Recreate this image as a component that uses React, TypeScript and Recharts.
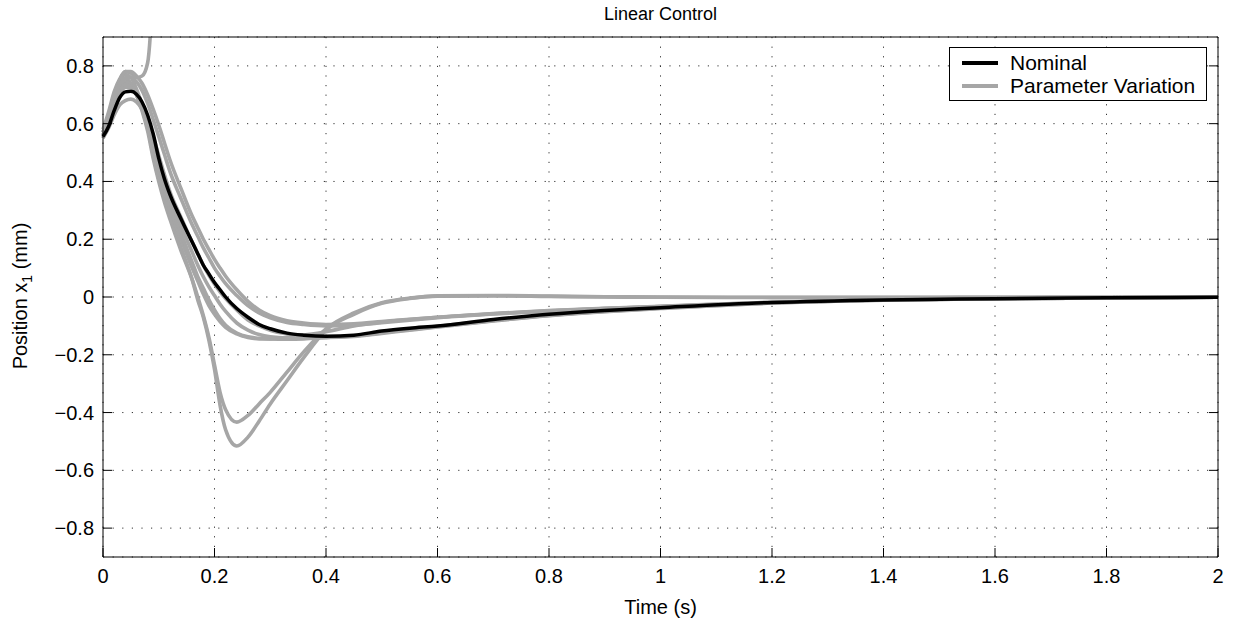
import React from 'react';
import { LineChart, Line, XAxis, YAxis, CartesianGrid } from 'recharts';

// sample times shared by every curve (s)
const times = [0, 0.01, 0.02, 0.03, 0.04, 0.05, 0.06, 0.07, 0.08, 0.09, 0.1, 0.11, 0.12, 0.14, 0.16, 0.17, 0.18, 0.19, 0.2, 0.21, 0.22, 0.24, 0.26, 0.28, 0.3, 0.33, 0.36, 0.4, 0.45, 0.5, 0.55, 0.6, 0.7, 0.8, 0.9, 1.0, 1.2, 1.4, 1.6, 1.8, 2.0];

// nominal response, position x1 (mm)
const nominal = [0.555, 0.59, 0.645, 0.69, 0.71, 0.712, 0.702, 0.675, 0.63, 0.565, 0.48, 0.41, 0.355, 0.27, 0.19, 0.15, 0.11, 0.08, 0.05, 0.025, 0.0, -0.04, -0.07, -0.095, -0.11, -0.125, -0.132, -0.136, -0.132, -0.118, -0.108, -0.1, -0.078, -0.06, -0.047, -0.037, -0.019, -0.01, -0.006, -0.003, -0.001];

// parameter variation runs
const runUnstable = [0.57, 0.63, 0.695, 0.75, 0.78, 0.775, 0.76, 0.765, 0.81, 1.1, 1.7, null, null, null, null, null, null, null, null, null, null, null, null, null, null, null, null, null, null, null, null, null, null, null, null, null, null, null, null, null, null];
const runDip1 = [0.56, 0.62, 0.69, 0.74, 0.755, 0.74, 0.7, 0.645, 0.575, 0.48, 0.4, 0.33, 0.27, 0.16, 0.06, 0.0, -0.065, -0.14, -0.235, -0.33, -0.39, -0.433, -0.41, -0.37, -0.33, -0.26, -0.19, -0.11, -0.055, -0.02, -0.004, 0.003, 0.004, 0.002, 0.0, -0.001, -0.002, -0.002, -0.001, -0.001, 0];
const runDip2 = [0.57, 0.63, 0.7, 0.75, 0.77, 0.76, 0.72, 0.665, 0.59, 0.49, 0.41, 0.34, 0.28, 0.17, 0.06, -0.01, -0.07, -0.15, -0.25, -0.375, -0.46, -0.516, -0.485, -0.43, -0.37, -0.29, -0.21, -0.115, -0.06, -0.022, -0.005, 0.004, 0.005, 0.003, 0.001, 0.0, -0.001, -0.001, -0.001, 0, 0];
const runFast1 = [0.55, 0.61, 0.67, 0.72, 0.745, 0.735, 0.7, 0.65, 0.585, 0.51, 0.44, 0.37, 0.31, 0.2, 0.1, 0.055, 0.01, -0.03, -0.06, -0.085, -0.105, -0.128, -0.14, -0.145, -0.145, -0.14, -0.132, -0.12, -0.1, -0.087, -0.078, -0.07, -0.058, -0.048, -0.04, -0.033, -0.019, -0.01, -0.006, -0.003, -0.001];
const runFast2 = [0.56, 0.6, 0.66, 0.71, 0.735, 0.73, 0.705, 0.66, 0.6, 0.53, 0.46, 0.39, 0.33, 0.22, 0.12, 0.07, 0.03, -0.01, -0.045, -0.075, -0.098, -0.125, -0.138, -0.143, -0.145, -0.146, -0.145, -0.14, -0.135, -0.124, -0.113, -0.103, -0.082, -0.064, -0.05, -0.039, -0.021, -0.011, -0.006, -0.003, -0.001];
const runSlow1 = [0.58, 0.64, 0.71, 0.755, 0.78, 0.78, 0.765, 0.74, 0.7, 0.65, 0.595, 0.535, 0.475, 0.375, 0.28, 0.24, 0.2, 0.165, 0.13, 0.1, 0.072, 0.025, -0.015, -0.045, -0.065, -0.082, -0.09, -0.095, -0.093, -0.085, -0.077, -0.07, -0.057, -0.047, -0.039, -0.032, -0.018, -0.01, -0.006, -0.003, -0.001];
const runSlow2 = [0.57, 0.625, 0.69, 0.735, 0.76, 0.76, 0.745, 0.715, 0.67, 0.615, 0.555, 0.495, 0.435, 0.34, 0.25, 0.21, 0.17, 0.135, 0.1, 0.072, 0.046, 0.005, -0.03, -0.055, -0.072, -0.088, -0.095, -0.1, -0.097, -0.089, -0.08, -0.072, -0.059, -0.049, -0.04, -0.033, -0.018, -0.01, -0.006, -0.003, -0.001];
const runNear1 = [0.55, 0.585, 0.63, 0.665, 0.68, 0.685, 0.675, 0.65, 0.61, 0.555, 0.49, 0.425, 0.365, 0.275, 0.19, 0.15, 0.11, 0.075, 0.045, 0.018, -0.005, -0.045, -0.08, -0.1, -0.115, -0.128, -0.135, -0.14, -0.137, -0.126, -0.115, -0.104, -0.083, -0.065, -0.051, -0.04, -0.021, -0.011, -0.006, -0.003, -0.001];
const runNear2 = [0.56, 0.6, 0.655, 0.7, 0.725, 0.725, 0.705, 0.67, 0.62, 0.55, 0.47, 0.4, 0.34, 0.245, 0.155, 0.11, 0.07, 0.035, 0.005, -0.025, -0.05, -0.09, -0.115, -0.13, -0.138, -0.142, -0.142, -0.14, -0.134, -0.123, -0.112, -0.101, -0.081, -0.063, -0.049, -0.038, -0.02, -0.011, -0.006, -0.003, -0.001];

const variations = [runUnstable, runDip1, runDip2, runFast1, runFast2, runSlow1, runSlow2, runNear1, runNear2];

const xTicks = [0, 0.2, 0.4, 0.6, 0.8, 1, 1.2, 1.4, 1.6, 1.8, 2];
const yTicks = [-0.8, -0.6, -0.4, -0.2, 0, 0.2, 0.4, 0.6, 0.8];

const toSeries = (vals: (number | null)[]) => times.map((t, i) => ({ t, v: vals[i] }));

const FONT = '"Liberation Sans", Arial, Helvetica, sans-serif';
const W = 1239;
const H = 624;
const PLOT = { left: 103, top: 37, right: 1218, bottom: 557 };
const TICK = 9;
const GRAY = '#a6a6a6';

const fmtX = (v: number) => (Number.isInteger(v) ? String(v) : v.toFixed(1));
const fmtY = (v: number) => (Math.abs(v) < 1e-9 ? '0' : (v < 0 ? '\u2212' : '') + Math.abs(v).toFixed(1));

const BottomTick = ({ x, payload }: any) => (
    <g>
        <line x1={x} x2={x} y1={PLOT.bottom} y2={PLOT.bottom - TICK} stroke="#000" />
        <text x={x} y={PLOT.bottom + 19} dy="0.35em" textAnchor="middle" fontSize={20} fontFamily={FONT} fill="#000">
            {fmtX(payload.value)}
        </text>
    </g>
);

const TopTick = ({ x }: any) => (
    <line x1={x} x2={x} y1={PLOT.top} y2={PLOT.top + TICK} stroke="#000" />
);

const LeftTick = ({ y, payload }: any) => (
    <g>
        <line x1={PLOT.left} x2={PLOT.left + TICK} y1={y} y2={y} stroke="#000" />
        <text x={PLOT.left - 9} y={y} dy="0.35em" textAnchor="end" fontSize={20} fontFamily={FONT} fill="#000">
            {fmtY(payload.value)}
        </text>
    </g>
);

const RightTick = ({ y }: any) => (
    <line x1={PLOT.right} x2={PLOT.right - TICK} y1={y} y2={y} stroke="#000" />
);

export default function App() {
    return (
        <div style={{ position: 'absolute', left: 0, top: 0, width: W, height: H, background: '#fff', fontFamily: FONT }}>
            <LineChart
                width={W}
                height={H}
                margin={{ top: PLOT.top - 10, right: W - PLOT.right - 10, bottom: H - PLOT.bottom - 30, left: PLOT.left - 60 }}
            >
                <CartesianGrid stroke="#333" strokeDasharray="1.2 8.4" strokeWidth={1} />
                <XAxis
                    dataKey="t"
                    type="number"
                    domain={[0, 2]}
                    ticks={xTicks}
                    height={30}
                    tick={<BottomTick />}
                    tickLine={false}
                    axisLine={{ stroke: '#000' }}
                    allowDuplicatedCategory={false}
                />
                <XAxis
                    xAxisId="top"
                    orientation="top"
                    dataKey="t"
                    type="number"
                    domain={[0, 2]}
                    ticks={xTicks}
                    height={10}
                    tick={<TopTick />}
                    tickLine={false}
                    axisLine={{ stroke: '#000' }}
                />
                <YAxis
                    type="number"
                    domain={[-0.9, 0.9]}
                    ticks={yTicks}
                    width={60}
                    allowDataOverflow
                    tick={<LeftTick />}
                    tickLine={false}
                    axisLine={{ stroke: '#000' }}
                />
                <YAxis
                    yAxisId="right"
                    orientation="right"
                    type="number"
                    domain={[-0.9, 0.9]}
                    ticks={yTicks}
                    width={10}
                    allowDataOverflow
                    tick={<RightTick />}
                    tickLine={false}
                    axisLine={{ stroke: '#000' }}
                />
                {variations.map((vals, i) => (
                    <Line
                        key={i}
                        data={toSeries(vals)}
                        dataKey="v"
                        type="monotone"
                        stroke={GRAY}
                        strokeWidth={3.6}
                        dot={false}
                        activeDot={false}
                        isAnimationActive={false}
                        connectNulls={false}
                    />
                ))}
                <Line
                    data={toSeries(nominal)}
                    dataKey="v"
                    type="monotone"
                    stroke="#000"
                    strokeWidth={3.5}
                    dot={false}
                    activeDot={false}
                    isAnimationActive={false}
                />
            </LineChart>

            {/* title and axis labels */}
            <div style={{ position: 'absolute', left: (PLOT.left + PLOT.right) / 2, top: 14, transform: 'translate(-50%, -50%)', fontSize: 18, whiteSpace: 'nowrap' }}>
                Linear Control
            </div>
            <div style={{ position: 'absolute', left: (PLOT.left + PLOT.right) / 2, top: 607, transform: 'translate(-50%, -50%)', fontSize: 20, whiteSpace: 'nowrap' }}>
                Time (s)
            </div>
            <div style={{ position: 'absolute', left: 20, top: 296, transform: 'translate(-50%, -50%) rotate(-90deg)', fontSize: 20, whiteSpace: 'nowrap' }}>
                Position x<sub style={{ fontSize: 14, verticalAlign: -5, lineHeight: 0 }}>1</sub> (mm)
            </div>

            {/* legend */}
            <div style={{ position: 'absolute', left: 949, top: 47, width: 256, height: 52, border: '1px solid #000', background: '#fff', fontSize: 21 }}>
                {[{ name: 'Nominal', color: '#000' }, { name: 'Parameter Variation', color: GRAY }].map((it, i) => (
                    <div key={it.name} style={{ position: 'absolute', left: 0, top: 4 + i * 23, height: 22, display: 'flex', alignItems: 'center', whiteSpace: 'nowrap' }}>
                        <span style={{ display: 'inline-block', marginLeft: 12, width: 36, height: 3.5, background: it.color }} />
                        <span style={{ marginLeft: 12 }}>{it.name}</span>
                    </div>
                ))}
            </div>
        </div>
    );
}
